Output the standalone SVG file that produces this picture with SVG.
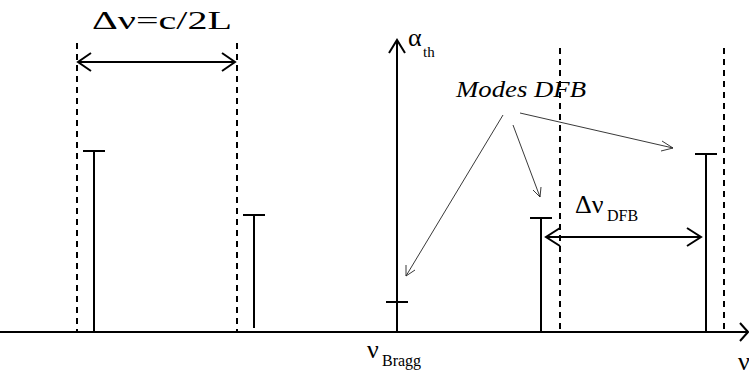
<svg xmlns="http://www.w3.org/2000/svg" width="749" height="376" viewBox="0 0 749 376">
<style>
.l{stroke:#000;stroke-width:2;fill:none}
.d{stroke:#000;stroke-width:2;fill:none;stroke-dasharray:6,5}
.t{stroke:#222;stroke-width:0.9;fill:none}
</style>
<rect width="749" height="376" fill="#fff"/>
<g font-family="Liberation Serif, Times New Roman, serif" fill="#000">
<g id="axes">
<line class="l" x1="0" y1="332" x2="748" y2="332"/>
<polyline class="l" points="740,323 748,332 740,341"/>
<line class="l" x1="397" y1="332" x2="397" y2="40"/>
<polyline class="l" points="389,53 397,40 405,53"/>
<text x="408" y="46" font-size="26">α</text><text x="423" y="57" font-size="15">th</text>
<text x="367" y="358" font-size="26">ν</text><text x="382" y="366" font-size="16">Bragg</text>
<text x="738" y="370" font-size="26">ν</text>
</g>
<g id="dashed">
<line class="d" x1="77" y1="43" x2="77" y2="332"/>
<line class="d" x1="237" y1="43" x2="237" y2="332"/>
<line class="d" x1="560" y1="48" x2="560" y2="332"/>
<line class="d" x1="724" y1="48" x2="724" y2="332"/>
</g>
<g id="mode1"><line class="l" x1="94" y1="151" x2="94" y2="332"/><line class="l" x1="83" y1="151" x2="105" y2="151"/></g>
<g id="mode2"><line class="l" x1="254" y1="215" x2="254" y2="328"/><line class="l" x1="243" y1="215" x2="265" y2="215"/></g>
<g id="mode-bragg"><line class="l" x1="386" y1="302" x2="408" y2="302"/></g>
<g id="mode3"><line class="l" x1="541" y1="218" x2="541" y2="332"/><line class="l" x1="530" y1="218" x2="552" y2="218"/></g>
<g id="mode4"><line class="l" x1="706" y1="154" x2="706" y2="332"/><line class="l" x1="695" y1="154" x2="717" y2="154"/></g>
<g id="label-fsr">
<text x="92" y="29" font-size="26" textLength="140" lengthAdjust="spacingAndGlyphs">Δν=c/2L</text>
<line class="l" x1="78" y1="62" x2="235" y2="62"/>
<polyline class="l" points="91,53 78,62 91,71"/>
<polyline class="l" points="222,53 235,62 222,71"/>
</g>
<g id="label-dfb">
<text x="575" y="213" font-size="26">Δν</text><text x="607" y="221" font-size="16">DFB</text>
<line class="l" x1="546" y1="237" x2="701" y2="237"/>
<polyline class="l" points="560,228 546,237 560,246"/>
<polyline class="l" points="687,228 701,237 687,246"/>
</g>
<g id="modes-label"><text x="456" y="97" font-size="24" font-style="italic" textLength="130" lengthAdjust="spacingAndGlyphs">Modes DFB</text></g>
<g id="connectors">
<line class="t" x1="503" y1="115" x2="406" y2="276"/>
<polyline class="t" points="406,265 406,276 415,270"/>
<line class="t" x1="513" y1="125" x2="540" y2="197"/>
<polyline class="t" points="533,190 540,197 541,187"/>
<line class="t" x1="520" y1="113" x2="673" y2="148"/>
<polyline class="t" points="662,141 673,148 661,151"/>
</g>
</g>
</svg>
